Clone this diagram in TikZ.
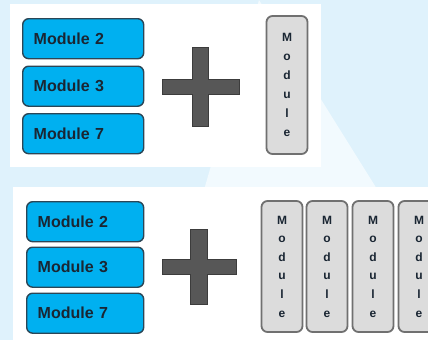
\documentclass[tikz,border=0pt]{standalone}
\usepackage{fontspec}
\setmainfont{Liberation Sans}
\definecolor{bgblue}{HTML}{DFF2FC}
\definecolor{modblue}{HTML}{00B0F0}
\definecolor{modedge}{HTML}{2B4656}
\definecolor{modtext}{HTML}{1A2633}
\definecolor{vfill}{HTML}{DCDCDC}
\definecolor{vedge}{HTML}{707070}
\definecolor{plusfill}{HTML}{575757}
\definecolor{plusedge}{HTML}{3C3C3C}
\tikzset{
  hmod/.style={draw=modedge, line width=1.4pt, fill=modblue, rounded corners=6pt,
    minimum height=40pt, text width=99pt, inner xsep=11pt, align=left,
    font=\fontsize{16}{16}\bfseries\selectfont, text=modtext},
  vmod/.style={draw=vedge, line width=1.8pt, fill=vfill, rounded corners=6pt,
    minimum width=41pt, inner sep=0pt, align=center, text=modtext},
  plusshape/.style={fill=plusfill, draw=plusedge, line width=1pt},
  panel/.style={fill=white, draw=none}
}
\begin{document}
\begin{tikzpicture}[x=1pt,y=-1pt]
\clip (0,0) rectangle (428,340);
\fill[bgblue] (0,0) rectangle (428,340);
\fill[white!60!bgblue] (259,0) -- (440,290) -- (175,290) -- cycle;
% panels
\fill[panel] (10,4) rectangle (321,167);
\fill[panel] (13,187) rectangle (430,342);
% top row
\node[hmod, anchor=north west] (t2) at (22,18) {Module 2};
\node[hmod, anchor=north west] (t3) at (22,65.5) {Module 3};
\node[hmod, anchor=north west] (t7) at (22,113) {Module 7};
\draw[plusshape] (192,47) -- (208,47) -- (208,79) -- (239,79) -- (239,94) -- (208,94) -- (208,126) -- (192,126) -- (192,94) -- (162,94) -- (162,79) -- (192,79) -- cycle;
\node[vmod, minimum height=138pt, font=\fontsize{12}{19}\bfseries\selectfont] (tv) at (287,85) {M\\o\\d\\u\\l\\e};
% bottom row
\node[hmod, anchor=north west, text width=95pt] (b2) at (26,201) {Module 2};
\node[hmod, anchor=north west, text width=95pt] (b3) at (26,246.5) {Module 3};
\node[hmod, anchor=north west, text width=95pt] (b7) at (26,292.5) {Module 7};
\draw[plusshape] (190,229) -- (207,229) -- (207,259) -- (236,259) -- (236,274) -- (207,274) -- (207,304) -- (190,304) -- (190,274) -- (162,274) -- (162,259) -- (190,259) -- cycle;
\node[vmod, minimum height=131pt, font=\fontsize{12}{18.6}\bfseries\selectfont] (bv1) at (282,266.5) {M\\o\\d\\u\\l\\e};
\node[vmod, minimum height=131pt, font=\fontsize{12}{18.6}\bfseries\selectfont] (bv2) at (327,266.5) {M\\o\\d\\u\\l\\e};
\node[vmod, minimum height=131pt, font=\fontsize{12}{18.6}\bfseries\selectfont] (bv3) at (373,266.5) {M\\o\\d\\u\\l\\e};
\node[vmod, minimum height=131pt, font=\fontsize{12}{18.6}\bfseries\selectfont] (bv4) at (419,266.5) {M\\o\\d\\u\\l\\e};
\end{tikzpicture}
\end{document}
